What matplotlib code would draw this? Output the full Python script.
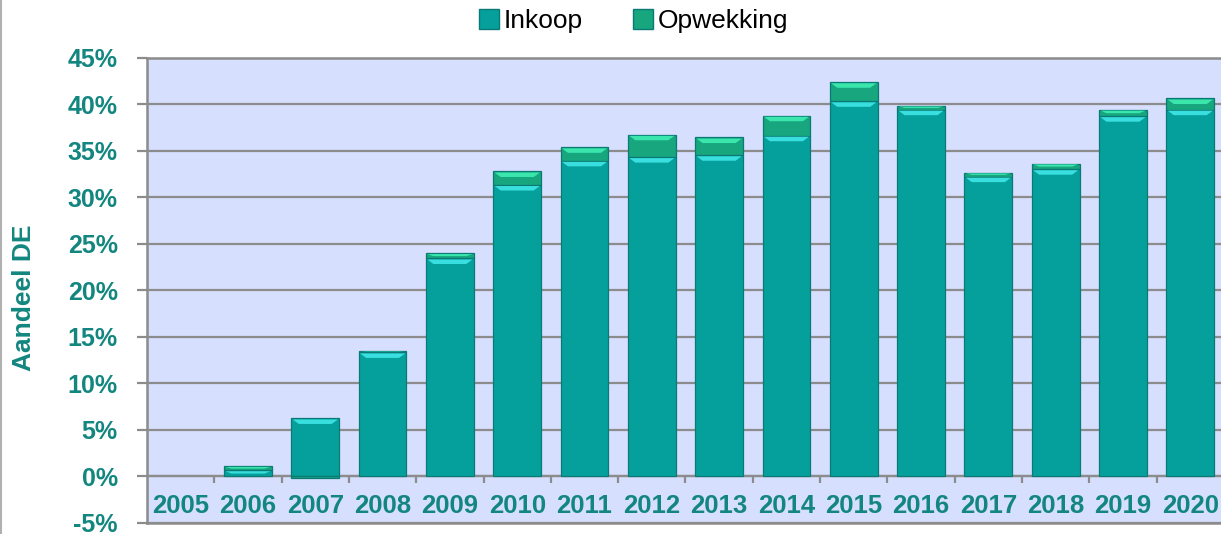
import matplotlib.pyplot as plt
import matplotlib.patches as patches
from matplotlib.lines import Line2D
from matplotlib.ticker import FuncFormatter, MultipleLocator

plt.rcParams['font.family'] = ['Liberation Sans', 'DejaVu Sans']

years = [2005, 2006, 2007, 2008, 2009, 2010, 2011, 2012,
         2013, 2014, 2015, 2016, 2017, 2018, 2019, 2020]
inkoop = [0.0, 0.6, 6.2, 13.3, 23.4, 31.3, 33.9, 34.3,
          34.5, 36.6, 40.3, 39.4, 32.2, 33.0, 38.7, 39.4]
opwekking = [0.0, 0.45, -0.2, 0.1, 0.55, 1.45, 1.45, 2.4,
             1.9, 2.15, 2.05, 0.4, 0.4, 0.6, 0.7, 1.2]

TEAL = "#05a09c"
TEAL_HI = "#3fe6e6"
GREEN = "#17a67e"
GREEN_HI = "#3eeeb2"
EDGE = "#0b7a76"
LABEL = "#138680"
GRID = "#8c8c8c"
BG = "#d6dffd"

fig = plt.figure(figsize=(12.21, 5.34), dpi=100)
ax = fig.add_axes([0.1204, 0.0215, 0.882, 0.8708])
ax.set_facecolor(BG)

x = list(range(len(years)))
w = 0.71

ax.yaxis.set_major_locator(MultipleLocator(5))
ax.set_ylim(-5, 45)
ax.set_xlim(-0.5, len(years) - 0.5)
ax.grid(axis="y", color=GRID, linewidth=1.6, zorder=0)
ax.set_axisbelow(True)
ax.axhline(0, color=GRID, linewidth=1.6, zorder=1)


def draw_segment(xi, bottom, height, body, hi):
    if height == 0:
        return
    ax.bar(xi, height, w, bottom=bottom, color=body, edgecolor=EDGE,
           linewidth=0.9, zorder=3)
    if height <= 0:
        return
    # bevel: light trapezoid just under the top edge
    top = bottom + height
    h = min(0.6, 0.55 * height)
    gap = min(0.12, 0.15 * height)
    x0, x1 = xi - w / 2 + 0.02, xi + w / 2 - 0.02
    inset = 0.09
    poly = patches.Polygon([(x0, top - gap), (x1, top - gap),
                            (x1 - inset, top - h), (x0 + inset, top - h)],
                           closed=True, facecolor=hi, edgecolor="none",
                           alpha=0.9, zorder=4)
    ax.add_patch(poly)


for xi, a, b in zip(x, inkoop, opwekking):
    draw_segment(xi, 0, a, TEAL, TEAL_HI)
    if b >= 0:
        draw_segment(xi, a, b, GREEN, GREEN_HI)
    else:
        draw_segment(xi, 0, b, GREEN, GREEN_HI)

# category ticks on the zero line
for i in range(len(years) - 1):
    ax.plot([i + 0.5, i + 0.5], [0, -0.8], color=GRID, linewidth=1.6,
            zorder=2, solid_capstyle="butt")

for xi, yr in zip(x, years):
    ax.text(xi, -3.25, str(yr), ha="center", va="center", fontsize=18.5,
            fontweight="bold", color=LABEL, zorder=6)

ax.set_xticks([])
ax.yaxis.set_major_formatter(FuncFormatter(lambda v, p: f"{v:.0f}%"))
ax.tick_params(axis="y", labelsize=18, labelcolor=LABEL, color=GRID,
               width=1.6, length=7, pad=14)
for lab in ax.get_yticklabels():
    lab.set_fontweight("bold")

for side in ["left", "bottom", "top"]:
    ax.spines[side].set_color(GRID)
    ax.spines[side].set_linewidth(1.8)
ax.spines["right"].set_visible(False)

ax.set_ylabel("Aandeel DE", fontsize=19, fontweight="bold", color=LABEL)
ax.yaxis.set_label_coords(-0.103, 0.484)

handles = [patches.Patch(facecolor=TEAL, edgecolor=EDGE, label="Inkoop"),
           patches.Patch(facecolor=GREEN, edgecolor=EDGE, label="Opwekking")]
fig.legend(handles=handles, loc="center", bbox_to_anchor=(0.519, 0.96),
           ncol=2, frameon=False, fontsize=19, handlelength=0.75,
           handleheight=0.75, handletextpad=0.2, columnspacing=1.9)

# thin grey frame line on the left of the figure
fig.add_artist(Line2D([0.001, 0.001], [0, 1], color="#b0b0b0", linewidth=1.5,
                      transform=fig.transFigure))

fig.savefig("out.png", dpi=100)
